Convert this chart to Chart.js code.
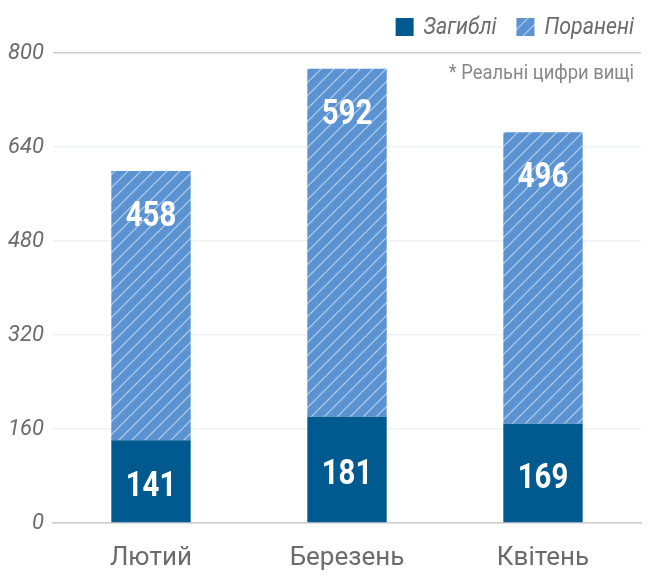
<!DOCTYPE html>
<html>
<head>
<meta charset="utf-8">
<script src="https://cdn.jsdelivr.net/npm/chart.js@4"></script>
<style>
  body { margin: 0; background: #fff; }
  #wrap { width: 654px; height: 579px; }
</style>
</head>
<body>
<div id="wrap"><canvas id="casualties"></canvas></div>
<script>
var months = ["Лютий", "Березень", "Квітень"];
var killed = [141, 181, 169];
var wounded = [458, 592, 496];
var seriesNames = ["Загиблі", "Поранені"];
var yTicks = [0, 160, 320, 480, 640, 800];
var note = "* Реальні цифри вищі";

var darkBlue = "#005a8f";
var lightBlue = "#5b93d2";
var grey = "#6b6b6b";

// diagonal hatch for the wounded series
function makeHatch() {
    var c = document.createElement("canvas");
    var s = 13;
    c.width = s; c.height = s;
    var g = c.getContext("2d");
    g.fillStyle = lightBlue;
    g.fillRect(0, 0, s, s);
    g.strokeStyle = "rgba(255,255,255,0.55)";
    g.lineWidth = 1.2;
    g.beginPath();
    g.moveTo(0, s); g.lineTo(s, 0);
    g.moveTo(-2, 2); g.lineTo(2, -2);
    g.moveTo(s - 2, s + 2); g.lineTo(s + 2, s - 2);
    g.stroke();
    return g.createPattern(c, "repeat");
}
var hatch = makeHatch();

var labelsPlugin = {
    id: "extras",
    afterDatasetsDraw: function(chart) {
        var ctx = chart.ctx;
        ctx.save();
        ctx.fillStyle = "#fff";
        ctx.font = "bold 35px Roboto";
        ctx.textAlign = "center";
        ctx.textBaseline = "middle";
        chart.data.datasets.forEach(function(ds, di) {
            chart.getDatasetMeta(di).data.forEach(function(bar, i) {
                var y = di === 0 ? (bar.y + bar.base) / 2 + 6 : bar.y + 46;
                ctx.save();
                ctx.translate(bar.x, y);
                ctx.scale(0.84, 1);
                ctx.fillText(ds.data[i], 0, 0);
                ctx.restore();
            });
        });
        ctx.restore();
    },
    afterDraw: function(chart) {
        var ctx = chart.ctx;
        var right = chart.chartArea.right - 7;
        ctx.save();
        // legend
        ctx.font = "italic 23px Roboto";
        ctx.textBaseline = "middle";
        ctx.textAlign = "left";
        var items = chart.data.datasets.slice().reverse();
        var x = right;
        for (var k = 0; k < items.length; k++) {
            var w = ctx.measureText(items[k].label).width * 0.93;
            x -= w;
            ctx.fillStyle = grey;
            ctx.save();
            ctx.translate(x, 28);
            ctx.scale(0.93, 1);
            ctx.fillText(items[k].label, 0, 0);
            ctx.restore();
            x -= 28;
            ctx.fillStyle = items[k].backgroundColor;
            ctx.fillRect(x, 18, 18, 18);
            x -= 20;
        }
        // note
        ctx.font = "20px Roboto";
        ctx.textAlign = "right";
        ctx.fillStyle = "#888";
        ctx.save();
        ctx.translate(right, 74);
        ctx.scale(0.92, 1);
        ctx.fillText(note, 0, 0);
        ctx.restore();
        ctx.restore();
    }
};

new Chart(document.getElementById("casualties"), {
    type: "bar",
    data: {
        labels: months,
        datasets: [
            { label: seriesNames[0], data: killed, backgroundColor: darkBlue, categoryPercentage: 1, barPercentage: 0.405 },
            { label: seriesNames[1], data: wounded, backgroundColor: hatch, categoryPercentage: 1, barPercentage: 0.405 }
        ]
    },
    options: {
        responsive: true,
        maintainAspectRatio: false,
        animation: false,
        layout: { padding: { top: 53, right: 13 } },
        plugins: {
            legend: { display: false },
            tooltip: { enabled: false }
        },
        scales: {
            x: {
                stacked: true,
                grid: { display: false },
                border: { color: "#cccccc", width: 1.5 },
                ticks: { color: grey, font: { family: "Roboto", size: 26 }, padding: 12 },
                afterFit: function(s) { s.height = 56; }
            },
            y: {
                stacked: true,
                min: 0,
                max: 800,
                afterBuildTicks: function(s) { s.ticks = yTicks.map(function(v) { return { value: v }; }); },
                border: { display: false },
                grid: {
                    drawTicks: false,
                    color: function(c) { return c.tick.value === 800 ? "#cccccc" : "#eef2f6"; },
                    lineWidth: 1.5
                },
                ticks: { color: grey, font: { family: "Roboto", size: 22, style: "italic" }, padding: 9 },
                afterFit: function(s) { s.width = 53; }
            }
        }
    },
    plugins: [labelsPlugin]
});
</script>
</body>
</html>
